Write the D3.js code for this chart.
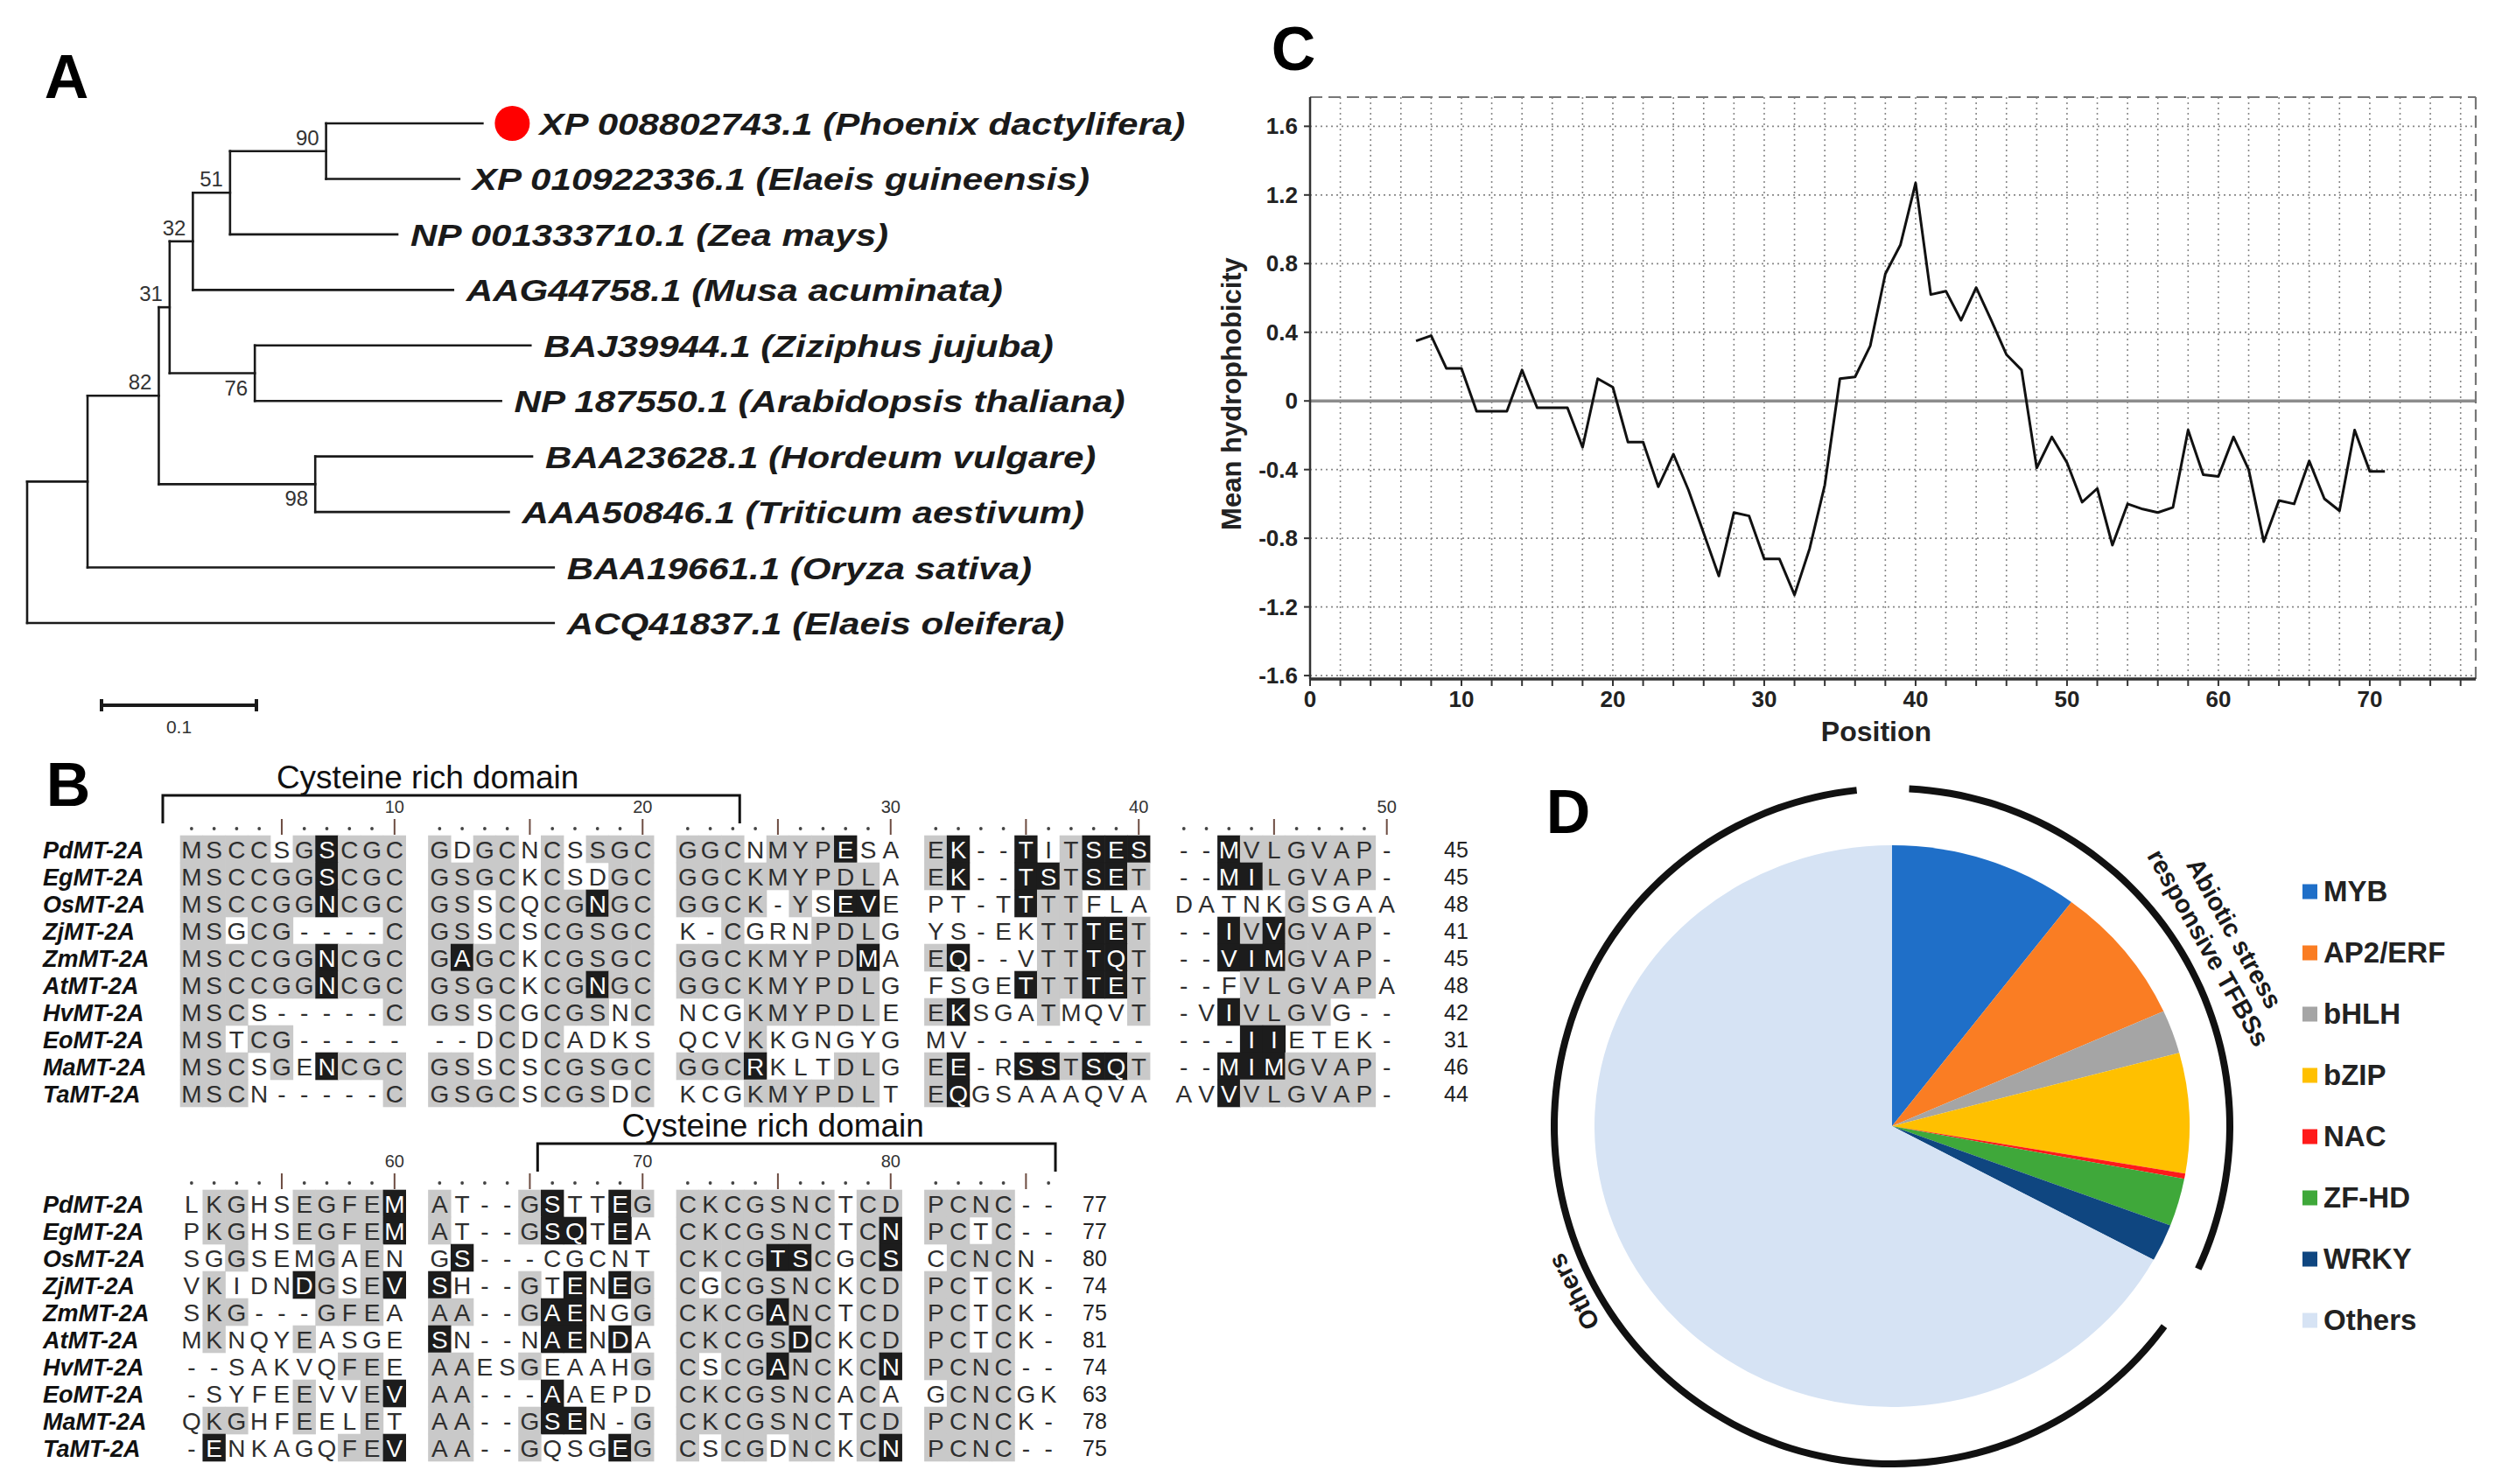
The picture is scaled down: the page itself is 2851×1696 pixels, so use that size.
<!DOCTYPE html>
<html>
<head>
<meta charset="utf-8">
<script src="https://cdn.jsdelivr.net/npm/d3@7"></script>
<style>
body { margin: 0; background: #fff; }
svg { display: block; font-family: "Liberation Sans", Arial, sans-serif; }
</style>
</head>
<body>
<svg id="fig" width="2851" height="1696"></svg>
<script>
// ---------- data ----------
// A: phylogenetic tree
var leafIds = ["XP 008802743.1", "XP 010922336.1", "NP 001333710.1", "AAG44758.1", "BAJ39944.1",
               "NP 187550.1", "BAA23628.1", "AAA50846.1", "BAA19661.1", "ACQ41837.1"];
var leafSpecies = ["Phoenix dactylifera", "Elaeis guineensis", "Zea mays", "Musa acuminata", "Ziziphus jujuba",
                   "Arabidopsis thaliana", "Hordeum vulgare", "Triticum aestivum", "Oryza sativa", "Elaeis oleifera"];
var highlightLeaf = 0;
// branch lengths (substitutions/site) and bootstrap values
var tree = {len: 0, children: [
  {len: 0.039, children: [
    {len: 0.046, boot: 82, children: [
      {len: 0.007, boot: 31, children: [
        {len: 0.015, boot: 32, children: [
          {len: 0.024, boot: 51, children: [
            {len: 0.062, boot: 90, children: [{leaf: 0, len: 0.101}, {leaf: 1, len: 0.086}]},
            {leaf: 2, len: 0.108}]},
          {leaf: 3, len: 0.168}]},
        {len: 0.055, boot: 76, children: [{leaf: 4, len: 0.178}, {leaf: 5, len: 0.159}]}]},
      {len: 0.101, boot: 98, children: [{leaf: 6, len: 0.140}, {leaf: 7, len: 0.125}]}]},
    {leaf: 8, len: 0.301}]},
  {leaf: 9, len: 0.340}]};
var scaleBarValue = 0.1;

// B: alignment
var seqNames = ["PdMT-2A", "EgMT-2A", "OsMT-2A", "ZjMT-2A", "ZmMT-2A", "AtMT-2A", "HvMT-2A", "EoMT-2A", "MaMT-2A", "TaMT-2A"];
var seqBlock1 = [
  "MSCCSGSCGCGDGCNCSSGCGGCNMYPESAEK--TITSES--MVLGVAP-",
  "MSCCGGSCGCGSGCKCSDGCGGCKMYPDLAEK--TSTSET--MILGVAP-",
  "MSCCGGNCGCGSSCQCGNGCGGCK-YSEVEPT-TTTTFLADATNKGSGAA",
  "MSGCG----CGSSCSCGSGCK-CGRNPDLGYS-EKTTTET--IVVGVAP-",
  "MSCCGGNCGCGAGCKCGSGCGGCKMYPDMAEQ--VTTTQT--VIMGVAP-",
  "MSCCGGNCGCGSGCKCGNGCGGCKMYPDLGFSGETTTTET--FVLGVAPA",
  "MSCS-----CGSSCGCGSNCNCGKMYPDLEEKSGATMQVT-VIVLGVG--",
  "MSTCG-------DCDCADKSQCVKKGNGYGMV-----------IIETEK-",
  "MSCSGENCGCGSSCSCGSGCGGCRKLTDLGEE-RSSTSQT--MIMGVAP-",
  "MSCN-----CGSGCSCGSDCKCGKMYPDLTEQGSAAAQVAAVVVLGVAP-"];
var seqBlock2 = [
  "LKGHSEGFEMAT--GSTTEGCKCGSNCTCDPCNC--",
  "PKGHSEGFEMAT--GSQTEACKCGSNCTCNPCTC--",
  "SGGSEMGAENGS---CGCNTCKCGTSCGCSCCNCN-",
  "VKIDNDGSEVSH--GTENEGCGCGSNCKCDPCTCK-",
  "SKG---GFEAAA--GAENGGCKCGANCTCDPCTCK-",
  "MKNQYEASGESN--NAENDACKCGSDCKCDPCTCK-",
  "--SAKVQFEEAAESGEAAHGCSCGANCKCNPCNC--",
  "-SYFEEVVEVAA---AAEPDCKCGSNCACAGCNCGK",
  "QKGHFEELETAA--GSEN-GCKCGSNCTCDPCNCK-",
  "-ENKAGQFEVAA--GQSGEGCSCGDNCKCNPCNC--"];
// columns printed white on black
var blackBlock1 = [[7, 28, 32, 35, 38, 39, 40, 43], [7, 32, 35, 36, 38, 39, 43, 44], [7, 18, 28, 29, 35],
  [38, 39, 43, 45], [7, 12, 29, 32, 38, 39, 43, 44, 45], [7, 18, 35, 38, 39], [32, 43], [44, 45],
  [7, 24, 32, 35, 36, 38, 39, 43, 44, 45], [32, 43]];
var blackBlock2 = [[60, 66, 69], [60, 66, 67, 69, 80], [62, 75, 76, 80], [56, 60, 61, 67, 69], [66, 67, 75],
  [61, 66, 67, 69, 76], [75, 80], [60, 66], [66, 67], [52, 60, 69, 80]];
var endNum1 = [45, 45, 48, 41, 45, 48, 42, 31, 46, 44];
var endNum2 = [77, 77, 80, 74, 75, 81, 74, 63, 78, 75];
var domainLabel = "Cysteine rich domain";
var domainCols = [[1, 23], [66, 86]];

// C: hydrophobicity profile
var hydPos = d3.range(7, 72);
var hydVal = [0.35, 0.38, 0.19, 0.19, -0.06, -0.06, -0.06, 0.18, -0.04, -0.04,
  -0.04, -0.27, 0.13, 0.08, -0.24, -0.24, -0.50, -0.31, -0.52, -0.77,
  -1.02, -0.65, -0.67, -0.92, -0.92, -1.13, -0.86, -0.49, 0.13, 0.14,
  0.32, 0.74, 0.91, 1.27, 0.62, 0.64, 0.47, 0.66, 0.47, 0.27,
  0.18, -0.39, -0.21, -0.36, -0.59, -0.51, -0.84, -0.60, -0.63, -0.65,
  -0.62, -0.17, -0.43, -0.44, -0.21, -0.40, -0.82, -0.58, -0.60, -0.35,
  -0.57, -0.64, -0.17, -0.41, -0.41];
var hydYTicks = [-1.6, -1.2, -0.8, -0.4, 0, 0.4, 0.8, 1.2, 1.6];
var hydXTicks = [0, 10, 20, 30, 40, 50, 60, 70];

// D: TFBS pie (percent)
var tfNames = ["MYB", "AP2/ERF", "bHLH", "bZIP", "NAC", "ZF-HD", "WRKY", "Others"];
var tfShares = [10.3, 8.0, 2.5, 6.9, 0.3, 2.75, 2.15, 67.1];
var tfColors = ["#1f6fc8", "#fa7d23", "#a5a5a5", "#ffc000", "#ff1a1a", "#3fa83a", "#0f4680", "#d6e3f4"];

// ---------- drawing ----------
var svg = d3.select("#fig");
svg.append("rect").attr("width", 2851).attr("height", 1696).attr("fill", "#fff");

svg.append("g").selectAll("text")
  .data([["A", 76, 112], ["B", 78, 921], ["C", 1478, 80], ["D", 1792, 952]])
  .enter().append("text")
  .attr("x", d => d[1]).attr("y", d => d[2])
  .attr("text-anchor", "middle").attr("font-size", 70).attr("font-weight", "bold")
  .text(d => d[0]);

// ===== A =====
var gA = svg.append("g");
var tx = d3.scaleLinear().domain([0, 0.1]).range([31, 208]);
var ty = d3.scalePoint().domain(d3.range(leafIds.length)).range([141, 712]);
var root = d3.hierarchy(tree);
root.eachBefore(function(d) { d.dist = (d.parent ? d.parent.dist : 0) + (d.data.len || 0); });
root.eachAfter(function(d) {
  d.yy = d.children ? (d.children[0].yy + d.children[d.children.length - 1].yy) / 2 : ty(d.data.leaf);
});
var nodes = root.descendants();
var branches = gA.append("g").attr("stroke", "#1a1a1a").attr("stroke-width", 2.6).attr("stroke-linecap", "square");
branches.selectAll("line.h").data(nodes.filter(d => d.parent)).enter().append("line").attr("class", "h")
  .attr("x1", d => tx(d.parent.dist)).attr("x2", d => tx(d.dist))
  .attr("y1", d => d.yy).attr("y2", d => d.yy);
branches.selectAll("line.v").data(nodes.filter(d => d.children)).enter().append("line").attr("class", "v")
  .attr("x1", d => tx(d.dist)).attr("x2", d => tx(d.dist))
  .attr("y1", d => d.children[0].yy).attr("y2", d => d.children[d.children.length - 1].yy);

gA.selectAll("text.boot").data(nodes.filter(d => d.data.boot)).enter().append("text").attr("class", "boot")
  .attr("x", d => tx(d.dist) - 8)
  .attr("y", d => d.parent.children[0] === d ? d.yy - 7 : d.yy + 25)
  .attr("text-anchor", "end").attr("font-size", 24).attr("fill", "#333")
  .text(d => d.data.boot);

var leaves = nodes.filter(d => !d.children);
gA.selectAll("circle").data(leaves.filter(d => d.data.leaf === highlightLeaf)).enter().append("circle")
  .attr("cx", d => tx(d.dist) + 34).attr("cy", d => d.yy).attr("r", 20).attr("fill", "#ff0000");
gA.selectAll("text.leaf").data(leaves).enter().append("text").attr("class", "leaf")
  .attr("transform", d => "translate(" + (tx(d.dist) + (d.data.leaf === highlightLeaf ? 65 : 15)) + "," + (d.yy + 13) + ") scale(1.17,1)")
  .attr("font-size", 36).attr("font-weight", "bold").attr("font-style", "italic").attr("fill", "#1a1a1a")
  .text(d => leafIds[d.data.leaf] + " (" + leafSpecies[d.data.leaf] + ")");

var sbX = 116, sbY = 806, sbW = tx(scaleBarValue) - tx(0);
gA.append("path").attr("d", "M" + sbX + "," + (sbY - 7) + "V" + (sbY + 7) + "M" + sbX + "," + sbY + "H" + (sbX + sbW) + "M" + (sbX + sbW) + "," + (sbY - 7) + "V" + (sbY + 7))
  .attr("stroke", "#1a1a1a").attr("stroke-width", 4).attr("fill", "none");
gA.append("text").attr("x", sbX + sbW / 2).attr("y", sbY + 32).attr("text-anchor", "middle")
  .attr("font-size", 21).attr("fill", "#333").text(scaleBarValue);

// ===== B =====
var gB = svg.append("g");
var pitch = 25.77, rowH = 31;
var slotX = d3.scaleLinear().domain([0, 1]).range([206, 206 + pitch]);
var blocks = [
  {seqs: seqBlock1, black: blackBlock1, nums: endNum1, first: 1, top: 955, numX: 1650, brY: 909},
  {seqs: seqBlock2, black: blackBlock2, nums: endNum2, first: 51, top: 1360, numX: 1237, brY: 1307}
];
function slotOf(j) { return j + Math.floor(j / 10); }

blocks.forEach(function(b, bi) {
  var rowY = d3.scaleLinear().domain([0, 1]).range([b.top, b.top + rowH]);
  var len = b.seqs[0].length;
  // consensus per column: majority residue present in at least half of the sequences
  var cons = d3.range(len).map(function(j) {
    var counts = d3.rollup(b.seqs.map(s => s[j]).filter(c => c !== "-"), v => v.length, c => c);
    var best = null, n = 0;
    counts.forEach(function(v, k) { if (v > n) { n = v; best = k; } });
    return n >= b.seqs.length / 2 ? best : null;
  });
  var cells = [];
  b.seqs.forEach(function(s, r) {
    for (var j = 0; j < len; j++) {
      var col = b.first + j;
      var isBlack = b.black[r].indexOf(col) >= 0;
      var shade = isBlack ? "b" : (s[j] !== "-" && s[j] === cons[j] ? "g" : "");
      cells.push({r: r, j: j, ch: s[j], shade: shade});
    }
  });
  var g = gB.append("g");
  g.selectAll("rect").data(cells.filter(c => c.shade)).enter().append("rect")
    .attr("x", c => slotX(slotOf(c.j)) - 0.3).attr("y", c => rowY(c.r) - 0.3)
    .attr("width", pitch + 0.6).attr("height", rowH + 0.6)
    .attr("fill", c => c.shade === "b" ? "#1c1c1c" : "#c9c9c9");
  g.selectAll("text.res").data(cells).enter().append("text").attr("class", "res")
    .attr("x", c => slotX(slotOf(c.j) + 0.5)).attr("y", c => rowY(c.r + 0.5) + 10)
    .attr("text-anchor", "middle").attr("font-size", 28)
    .attr("fill", c => c.shade === "b" ? "#fff" : "#2e2e2e")
    .text(c => c.ch);
  g.selectAll("text.name").data(seqNames).enter().append("text").attr("class", "name")
    .attr("x", 49).attr("y", (d, r) => rowY(r + 0.5) + 10)
    .attr("font-size", 27).attr("font-weight", "bold").attr("font-style", "italic").attr("fill", "#111")
    .text(d => d);
  g.selectAll("text.num").data(b.nums).enter().append("text").attr("class", "num")
    .attr("x", b.numX).attr("y", (d, r) => rowY(r + 0.5) + 9)
    .attr("font-size", 25).attr("fill", "#222").text(d => d);
  // ruler
  var cols = d3.range(len);
  g.selectAll("circle").data(cols.filter(j => (b.first + j) % 5 !== 0)).enter().append("circle")
    .attr("cx", j => slotX(slotOf(j) + 0.5)).attr("cy", b.top - 8).attr("r", 1.9).attr("fill", "#444");
  g.selectAll("line.tick").data(cols.filter(j => (b.first + j) % 5 === 0)).enter().append("line").attr("class", "tick")
    .attr("x1", j => slotX(slotOf(j) + 0.5)).attr("x2", j => slotX(slotOf(j) + 0.5))
    .attr("y1", b.top - 19).attr("y2", b.top - 1).attr("stroke", "#6d4c41").attr("stroke-width", 2);
  g.selectAll("text.pos").data(cols.filter(j => (b.first + j) % 10 === 0)).enter().append("text").attr("class", "pos")
    .attr("x", j => slotX(slotOf(j) + 0.5)).attr("y", b.top - 26)
    .attr("text-anchor", "middle").attr("font-size", 20)
    .attr("font-family", "'Liberation Sans Narrow', 'Arial Narrow', 'Liberation Sans', sans-serif")
    .attr("fill", "#333").text(j => b.first + j);
  // domain bracket
  var dc = domainCols[bi];
  var xL = slotX(slotOf(dc[0] - b.first)) - 4 - (bi === 0 ? 16 : 0);
  var xR = slotX(slotOf(dc[1] - b.first) + 1) - 5;
  g.append("path").attr("d", "M" + xL + "," + (b.brY + 32) + "V" + b.brY + "H" + xR + "V" + (b.brY + 32))
    .attr("fill", "none").attr("stroke", "#111").attr("stroke-width", 3);
  g.append("text").attr("x", (xL + xR) / 2 - 27).attr("y", b.brY - 8).attr("text-anchor", "middle")
    .attr("font-size", 37).attr("fill", "#111").text(domainLabel);
});

// ===== C =====
var gC = svg.append("g");
var cx = d3.scaleLinear().domain([0, 77]).range([1497, 2829]);
var cy = d3.scaleLinear().domain([-1.62, 1.77]).range([776, 111]);
gC.append("g").selectAll("line").data(d3.range(2, 77, 2)).enter().append("line")
  .attr("x1", d => cx(d)).attr("x2", d => cx(d)).attr("y1", cy(1.77)).attr("y2", cy(-1.62))
  .attr("stroke", "#888").attr("stroke-width", 1.6).attr("stroke-dasharray", "2,4");
gC.append("g").selectAll("line").data(hydYTicks).enter().append("line")
  .attr("x1", cx(0)).attr("x2", cx(77)).attr("y1", d => cy(d)).attr("y2", d => cy(d))
  .attr("stroke", d => d === 0 ? "#8c8c8c" : "#888")
  .attr("stroke-width", d => d === 0 ? 3.5 : 1.8)
  .attr("stroke-dasharray", d => d === 0 ? null : "2,4");
gC.append("line").attr("x1", cx(0)).attr("x2", cx(77)).attr("y1", cy(1.77)).attr("y2", cy(1.77))
  .attr("stroke", "#777").attr("stroke-width", 2.2).attr("stroke-dasharray", "14,7");
gC.append("line").attr("x1", cx(77)).attr("x2", cx(77)).attr("y1", cy(1.77)).attr("y2", cy(-1.62))
  .attr("stroke", "#777").attr("stroke-width", 2.2).attr("stroke-dasharray", "14,7");
gC.append("line").attr("x1", cx(0)).attr("x2", cx(0)).attr("y1", cy(1.77)).attr("y2", cy(-1.62))
  .attr("stroke", "#333").attr("stroke-width", 2.5);
gC.append("line").attr("x1", cx(0)).attr("x2", cx(77)).attr("y1", cy(-1.62)).attr("y2", cy(-1.62))
  .attr("stroke", "#333").attr("stroke-width", 3.5);
gC.append("g").selectAll("line").data(d3.range(0, 77, 2)).enter().append("line")
  .attr("x1", d => cx(d)).attr("x2", d => cx(d)).attr("y1", cy(-1.62)).attr("y2", cy(-1.62) + 8)
  .attr("stroke", "#333").attr("stroke-width", 2);
gC.append("g").selectAll("line").data(hydYTicks).enter().append("line")
  .attr("x1", cx(0) - 7).attr("x2", cx(0)).attr("y1", d => cy(d)).attr("y2", d => cy(d))
  .attr("stroke", "#333").attr("stroke-width", 2);
gC.append("g").selectAll("text").data(hydYTicks).enter().append("text")
  .attr("x", 1483).attr("y", d => cy(d) + 9).attr("text-anchor", "end")
  .attr("font-size", 26).attr("font-weight", "bold").attr("fill", "#222")
  .text(d => d === 0 ? "0" : d.toFixed(1));
gC.append("g").selectAll("text").data(hydXTicks).enter().append("text")
  .attr("x", d => cx(d)).attr("y", 808).attr("text-anchor", "middle")
  .attr("font-size", 26).attr("font-weight", "bold").attr("fill", "#222").text(d => d);
gC.append("text").attr("x", cx(37.4)).attr("y", 847).attr("text-anchor", "middle")
  .attr("font-size", 32).attr("font-weight", "bold").attr("fill", "#222").text("Position");
gC.append("text").attr("transform", "translate(1418,450) rotate(-90)").attr("text-anchor", "middle")
  .attr("font-size", 31).attr("font-weight", "bold").attr("fill", "#222").text("Mean hydrophobicity");
var hydLine = d3.line().x((d, i) => cx(hydPos[i])).y(d => cy(d));
gC.append("path").attr("d", hydLine(hydVal)).attr("fill", "none")
  .attr("stroke", "#111").attr("stroke-width", 3).attr("stroke-linejoin", "round");

// ===== D =====
var gD = svg.append("g").attr("transform", "translate(2162,1287)");
var pieData = d3.pie().sort(null)(tfShares);
var pieArc = d3.arc().innerRadius(0).outerRadius(340);
// the pie is drawn slightly flattened, as in the original figure
gD.append("g").attr("transform", "scale(1,0.944)")
  .selectAll("path.slice").data(pieData).enter().append("path").attr("class", "slice")
  .attr("d", pieArc).attr("fill", (d, i) => tfColors[i]);
var rad = Math.PI / 180;
var groups = [
  {a0: 2.9 * rad, a1: 115 * rad, mid: 60.6 * rad, lines: ["Abiotic stress", "responsive TFBSs"]},
  {a0: 126.3 * rad, a1: 354 * rad, mid: 242.5 * rad, lines: ["Others"]}
];
var ring = d3.arc().innerRadius(382).outerRadius(390);
gD.selectAll("path.ring").data(groups).enter().append("path").attr("class", "ring")
  .attr("d", g => ring({startAngle: g.a0, endAngle: g.a1})).attr("fill", "#111");
groups.forEach(function(g) {
  var a = g.mid;
  var deg = a / rad;
  if (deg > 180) deg -= 360;
  g.lines.forEach(function(t, k) {
    var r = (g.lines.length > 1 ? 439 - k * 34 : 400);
    gD.append("text")
      .attr("transform", "translate(" + (r * Math.sin(a)) + "," + (-r * Math.cos(a)) + ") rotate(" + deg + ")")
      .attr("text-anchor", "middle").attr("font-size", 29).attr("font-weight", "bold").attr("fill", "#1a1a1a")
      .text(t);
  });
});
var legend = svg.append("g");
var ly = d3.scalePoint().domain(tfNames).range([1019, 1509]);
legend.selectAll("rect").data(tfNames).enter().append("rect")
  .attr("x", 2631).attr("y", d => ly(d) - 8.5).attr("width", 17).attr("height", 17)
  .attr("fill", (d, i) => tfColors[i]);
legend.selectAll("text").data(tfNames).enter().append("text")
  .attr("x", 2655).attr("y", d => ly(d) + 11)
  .attr("font-size", 33).attr("font-weight", "bold").attr("fill", "#222").text(d => d);
</script>
</body>
</html>
